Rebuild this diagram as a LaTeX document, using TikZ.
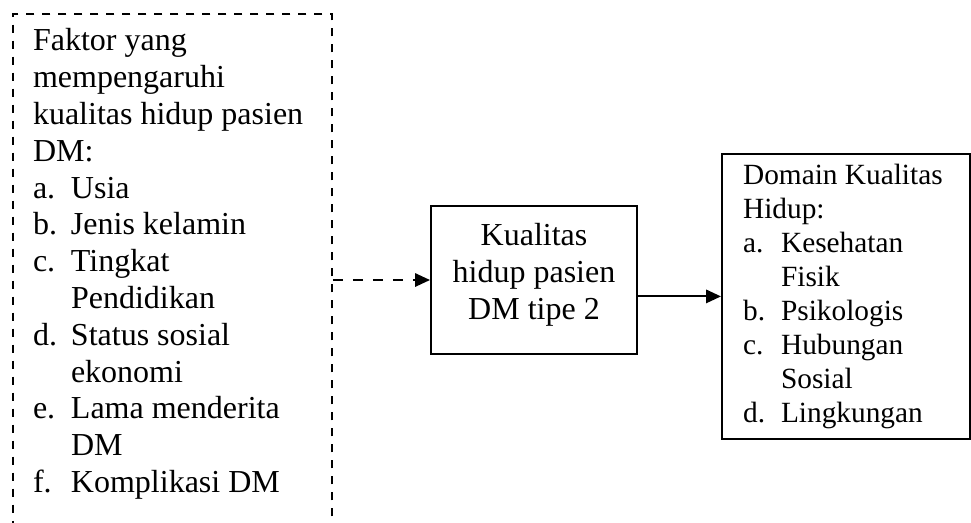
\documentclass[tikz,border=0pt]{standalone}
\usepackage{fontspec}
\setmainfont{Liberation Serif}
\usetikzlibrary{arrows.meta}

\tikzset{
  kotak/.style={draw, line width=0.75pt, inner sep=0pt},
  panah/.style={-{Triangle[length=5.6pt,width=5pt]}, line width=0.75pt},
}

\begin{document}
\begin{tikzpicture}[x=0.375pt, y=-0.375pt]
  \useasboundingbox (0,0) rectangle (971,522);

  % Kotak faktor (garis putus-putus), bagian bawahnya terpotong
  \node[kotak, dash pattern=on 3pt off 3pt, anchor=north west,
        inner xsep=7.5pt, inner ysep=4.2pt,
        font=\fontsize{12}{13.8}\selectfont] (faktor) at (12,13) {%
    \begin{tabular}{@{}p{14.25pt}@{}p{90.35pt}@{}}
      \multicolumn{2}{@{}l@{}}{Faktor yang}\\
      \multicolumn{2}{@{}l@{}}{mempengaruhi}\\
      \multicolumn{2}{@{}l@{}}{kualitas hidup pasien}\\
      \multicolumn{2}{@{}l@{}}{DM:}\\
      a. & Usia\\
      b. & Jenis kelamin\\
      c. & Tingkat\\
         & Pendidikan\\
      d. & Status sosial\\
         & ekonomi\\
      e. & Lama menderita\\
         & DM\\
      f. & Komplikasi DM\\[13pt]
    \end{tabular}};

  % Kotak tengah
  \node[kotak, anchor=north west, minimum width=77.25pt, minimum height=55.5pt,
        font=\fontsize{12}{13.8}\selectfont] (kualitas) at (430,205) {%
    \begin{tabular}{@{}c@{}}
      Kualitas\\
      hidup pasien\\
      DM tipe 2\\[3.6pt]
    \end{tabular}};

  % Kotak domain
  \node[kotak, anchor=north west, inner xsep=7.9pt, inner ysep=2.4pt,
        font=\fontsize{11}{12.75}\selectfont] (domain) at (721,153) {%
    \begin{tabular}{@{}p{14.25pt}@{}p{63pt}@{}}
      \multicolumn{2}{@{}l@{}}{Domain Kualitas}\\
      \multicolumn{2}{@{}l@{}}{Hidup:}\\
      a. & Kesehatan\\
         & Fisik\\
      b. & Psikologis\\
      c. & Hubungan\\
         & Sosial\\
      d. & Lingkungan
    \end{tabular}};

  % Panah
  \draw[panah, dash pattern=on 3.75pt off 3.75pt] (faktor.east |- kualitas.west) -- (kualitas.west);
  \draw[panah] (kualitas.east |- domain.west) -- (domain.west);
\end{tikzpicture}
\end{document}
